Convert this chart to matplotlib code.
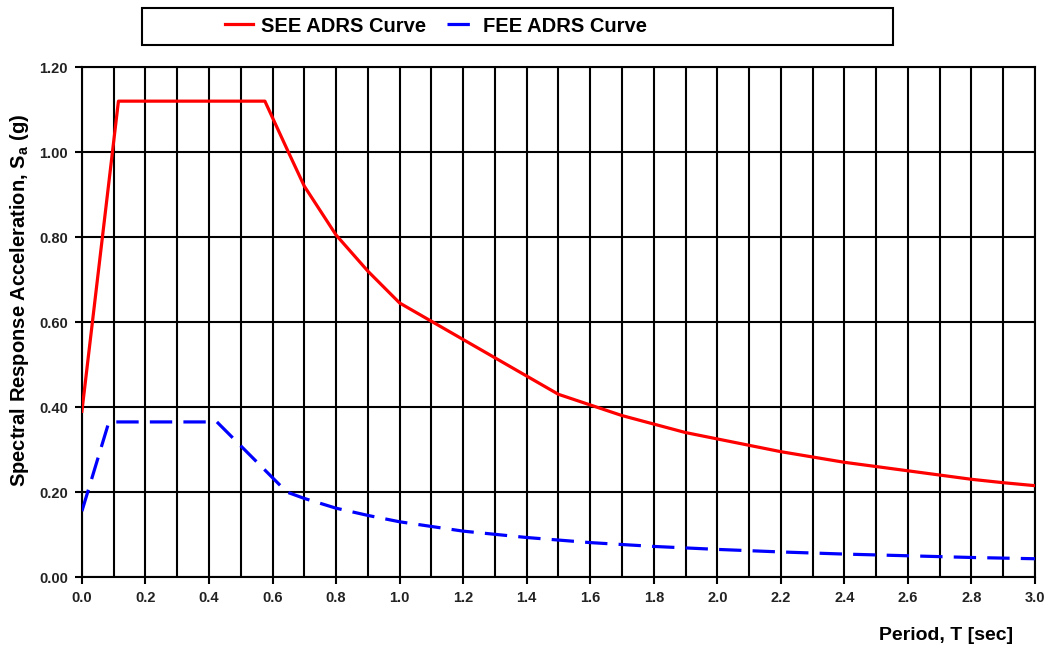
import matplotlib
matplotlib.use("Agg")
import matplotlib.pyplot as plt
from matplotlib.ticker import MultipleLocator

# ------------------------------------------------------------
# Data
# ------------------------------------------------------------
see_T  = [0.0, 0.115, 0.576, 0.65, 0.70, 0.80, 0.90, 1.00, 1.50, 1.60, 1.70,
          1.80, 1.90, 2.00, 2.20, 2.40, 2.60, 2.80, 2.90, 3.00]
see_Sa = [0.39, 1.12, 1.12, 1.00, 0.92, 0.805, 0.72, 0.645, 0.43, 0.405, 0.38,
          0.36, 0.34, 0.325, 0.295, 0.27, 0.25, 0.23, 0.222, 0.215]

fee_T  = [0.0, 0.085, 0.425, 0.645, 0.70, 0.80, 0.90, 1.00, 1.20, 1.40, 1.60,
          1.80, 2.00, 2.20, 2.40, 2.60, 2.80, 3.00]
fee_Sa = [0.155, 0.365, 0.365, 0.20, 0.185, 0.162, 0.145, 0.13, 0.108, 0.093, 0.081,
          0.072, 0.065, 0.059, 0.054, 0.05, 0.046, 0.043]

legend_labels = ["SEE ADRS Curve", "FEE ADRS Curve"]

# ------------------------------------------------------------
# Figure
# ------------------------------------------------------------
plt.rcParams["font.family"] = ["Liberation Sans", "DejaVu Sans"]
plt.rcParams["font.weight"] = "bold"

fig = plt.figure(figsize=(10.5, 6.52), dpi=100)
ax = fig.add_axes([0.078, 0.115, 0.9077, 0.782])

l1, = ax.plot(see_T, see_Sa, color="#ff0000", lw=2.3, zorder=3)
l2, = ax.plot(fee_T, fee_Sa, color="#0000ff", lw=2.3, zorder=3,
              dashes=(7, 3.5), dash_capstyle="butt")

ax.set_xlim(0, 3.0)
ax.set_ylim(0, 1.2)
ax.xaxis.set_major_locator(MultipleLocator(0.2))
ax.xaxis.set_minor_locator(MultipleLocator(0.1))
ax.yaxis.set_major_locator(MultipleLocator(0.2))
ax.xaxis.set_major_formatter(plt.FuncFormatter(lambda v, p: f"{v:.1f}"))
ax.yaxis.set_major_formatter(plt.FuncFormatter(lambda v, p: f"{v:.2f}"))

ax.grid(which="both", axis="x", color="black", lw=1.5)
ax.grid(which="major", axis="y", color="black", lw=1.5)
for s in ax.spines.values():
    s.set_linewidth(1.5)
    s.set_color("black")

ax.tick_params(which="major", direction="out", length=5, width=1.5,
               labelsize=10.5, colors="black", pad=5)
ax.tick_params(which="minor", length=0)
for lab in ax.get_xticklabels() + ax.get_yticklabels():
    lab.set_fontweight("bold")
    lab.set_color("#222222")

fig.text(20 / 1050, 1 - 300 / 652, "Spectral Response Acceleration, S$_\\mathregular{a}$ (g)",
         rotation=90, ha="center", va="center", fontsize=14.5, fontweight="bold")
fig.text(1013 / 1050, 1 - 636 / 652, "Period, T [sec]",
         ha="right", va="center", fontsize=14, fontweight="bold")

leg = fig.legend([l1, l2], legend_labels, ncol=2, loc="center left",
                 bbox_to_anchor=(225 / 1050, 1 - 26 / 652),
                 frameon=False, fontsize=14.5, handlelength=1.4, handletextpad=0.4,
                 columnspacing=1.0, borderpad=0, borderaxespad=0)
for t in leg.get_texts():
    t.set_fontweight("bold")

# moldura da legenda
fig.patches.append(plt.Rectangle((142 / 1050, 1 - 45 / 652), 751 / 1050, 37 / 652,
                                 transform=fig.transFigure, fill=False,
                                 edgecolor="black", lw=1.5))

fig.savefig("out.png", dpi=100)
